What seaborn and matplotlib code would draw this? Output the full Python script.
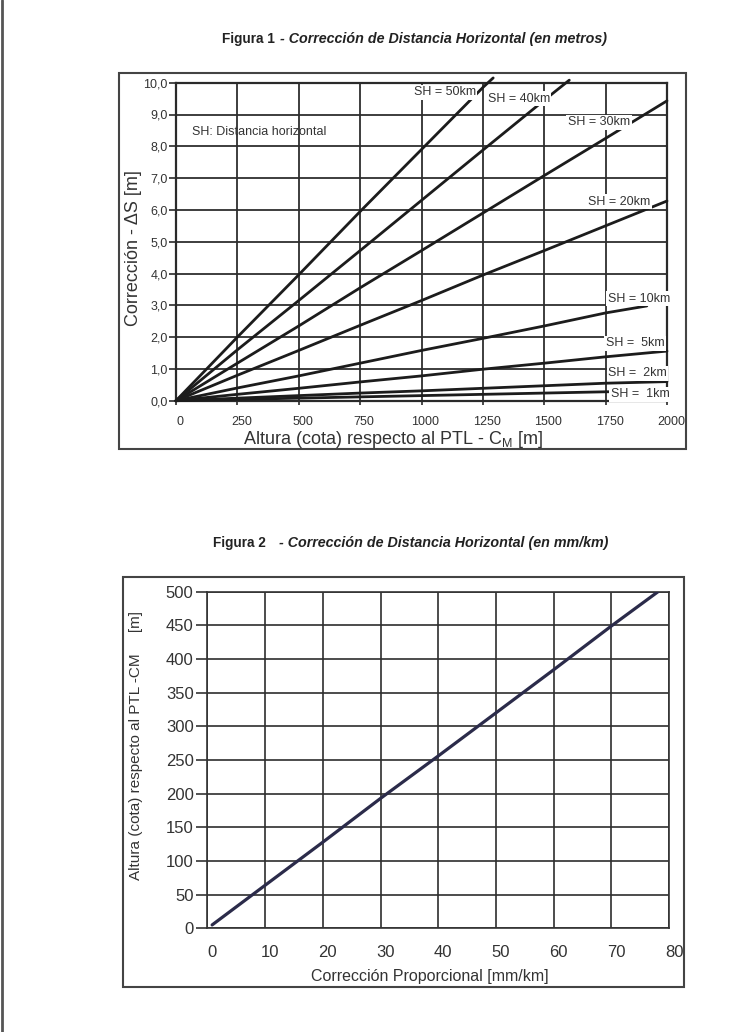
import numpy as np
import pandas as pd
import matplotlib
matplotlib.use("Agg")
import matplotlib.pyplot as plt
import seaborn as sns
from matplotlib.patches import Rectangle
from matplotlib.lines import Line2D
from matplotlib.transforms import ScaledTranslation

# ---------------- data ----------------
h_grid = [0, 250, 500, 750, 1000, 1250, 1500, 1750, 2000]
sh50_h = [0, 250, 500, 750, 1000, 1250, 1292]
sh50_ds = [0, 2.0, 3.96, 5.95, 7.9, 9.85, 10.15]
sh40_h = [0, 250, 500, 750, 1000, 1250, 1500, 1602]
sh40_ds = [0, 1.6, 3.15, 4.72, 6.3, 7.88, 9.45, 10.08]
sh30_ds = [0, 1.18, 2.35, 3.55, 4.72, 5.9, 7.08, 8.25, 9.43]
sh20_ds = [0, 0.8, 1.58, 2.37, 3.15, 3.95, 4.72, 5.5, 6.28]
sh10_h = [0, 250, 500, 750, 1000, 1250, 1500, 1750, 1918]
sh10_ds = [0, 0.4, 0.78, 1.18, 1.58, 1.96, 2.35, 2.76, 2.98]
sh5_ds = [0, 0.2, 0.39, 0.59, 0.78, 0.99, 1.18, 1.38, 1.56]
sh2_ds = [0, 0.08, 0.16, 0.24, 0.31, 0.39, 0.47, 0.55, 0.6]
sh1_ds = [0, 0.04, 0.08, 0.12, 0.16, 0.2, 0.24, 0.28, 0.31]

sh_labels = ["SH = 50km", "SH = 40km", "SH = 30km", "SH = 20km",
             "SH = 10km", "SH =  5km", "SH =  2km", "SH =  1km"]
label_x = [1094, 1396, 1723, 1806, 1885, 1870, 1880, 1890]
label_y = [9.7, 9.49, 8.75, 6.26, 3.2, 1.8, 0.86, 0.21]

x1_ticks = [0, 250, 500, 750, 1000, 1250, 1500, 1750, 2000]
y1_ticks = [0, 1, 2, 3, 4, 5, 6, 7, 8, 9, 10]
y1_ticklabels = ["0,0", "1,0", "2,0", "3,0", "4,0", "5,0", "6,0", "7,0", "8,0", "9,0", "10,0"]

corr_mmkm = [0.8, 10, 20, 30, 40, 50, 60, 70, 78.1]
altura_m = [5, 64, 128, 193, 256, 320, 384, 449, 500]
x2_ticks = [0, 10, 20, 30, 40, 50, 60, 70, 80]
y2_ticks = [0, 50, 100, 150, 200, 250, 300, 350, 400, 450, 500]

# ---------------- style ----------------
sns.set_style("white")
plt.rcParams["font.family"] = ["Liberation Sans", "DejaVu Sans"]
plt.rcParams["mathtext.fontset"] = "custom"
plt.rcParams["mathtext.rm"] = "Liberation Sans"
plt.rcParams["mathtext.it"] = "Liberation Sans"

W, H = 744, 1032
fig = plt.figure(figsize=(W / 100, H / 100), dpi=100)

def frac_axes(x0, x1, ytop, ybot):
    return [x0 / W, 1 - ybot / H, (x1 - x0) / W, (ybot - ytop) / H]

grid_c = "#2e2e2e"
txt_c = "#333333"

# page border line at left
fig.add_artist(Line2D([0.0025, 0.0025], [0, 1], transform=fig.transFigure, color="#555555", lw=2))

# outer frames
fig.add_artist(Rectangle((119 / W, 1 - 449 / H), 567 / W, 376 / H, transform=fig.transFigure,
                         fill=False, ec="#444444", lw=1.5))
fig.add_artist(Rectangle((123 / W, 1 - 987 / H), 561 / W, 410 / H, transform=fig.transFigure,
                         fill=False, ec="#444444", lw=1.5))

# titles
tkw = dict(weight="bold", va="center", ha="left", color="#222222")
fig.text(221.7 / W, 1 - 38.5 / H, "Figura 1", fontsize=9.8, **tkw)
fig.text(280 / W, 1 - 38.5 / H, "- Corrección de Distancia Horizontal (en metros)",
         style="italic", fontsize=10.3, **tkw)
fig.text(213 / W, 1 - 543 / H, "Figura 2", fontsize=9.8, **tkw)
fig.text(279 / W, 1 - 543 / H, "- Corrección de Distancia Horizontal (en mm/km)",
         style="italic", fontsize=10.3, **tkw)

# ---------------- Figure 1 ----------------
ax1 = fig.add_axes(frac_axes(176, 667, 82.7, 400.7))
rows = []
series = [
    ("50", sh50_h, sh50_ds), ("40", sh40_h, sh40_ds), ("30", h_grid, sh30_ds),
    ("20", h_grid, sh20_ds), ("10", sh10_h, sh10_ds), ("5", h_grid, sh5_ds),
    ("2", h_grid, sh2_ds), ("1", h_grid, sh1_ds),
]
for name, hs, ds in series:
    for a, b in zip(hs, ds):
        rows.append({"sh": name, "h": a, "ds": b})
df1 = pd.DataFrame(rows)
sns.lineplot(data=df1, x="h", y="ds", hue="sh", palette=["#1c1c1c"] * 8, legend=False,
             estimator=None, sort=False, lw=2.0, ax=ax1, clip_on=False, zorder=3)

ax1.set_xlim(0, 2000)
ax1.set_ylim(0, 10)
ax1.set_xticks(x1_ticks)
ax1.set_xticklabels([str(t) for t in x1_ticks])
ax1.set_yticks(y1_ticks)
ax1.set_yticklabels(y1_ticklabels)
ax1.grid(True, color=grid_c, lw=1.3)
ax1.set_axisbelow(True)
for s in ax1.spines.values():
    s.set_color("#2a2a2a")
    s.set_linewidth(1.6)
ax1.tick_params(axis="y", direction="out", length=5, width=1.2, pad=1, labelsize=9,
                colors="#2a2a2a", labelcolor=txt_c, left=True)
ax1.tick_params(axis="x", direction="out", length=3, width=1.2, pad=8, labelsize=9,
                colors="#2a2a2a", labelcolor=txt_c, bottom=True)
for lab in ax1.get_xticklabels():
    lab.set_transform(lab.get_transform() + ScaledTranslation(0.04, 0, fig.dpi_scale_trans))

ax1.set_xlabel(r"Altura (cota) respecto al PTL - C$_\mathregular{M}$ [m]", fontsize=13, color=txt_c)
ax1.xaxis.set_label_coords(0.441, -0.088)
ax1.set_ylabel("Corrección - ΔS [m]", fontsize=13, color=txt_c)
ax1.yaxis.set_label_coords(-0.069, 0.48)

for t, x, y in zip(sh_labels, label_x, label_y):
    ax1.text(x, y, t, fontsize=9, ha="center", va="center", color=txt_c, zorder=6,
             bbox=dict(boxstyle="square,pad=0.12", fc="white", ec="none"))
ax1.text(66, 8.46, "SH: Distancia horizontal", fontsize=9, ha="left", va="center",
         color=txt_c, zorder=6)

# ---------------- Figure 2 ----------------
ax2 = fig.add_axes(frac_axes(207.5, 669, 591.7, 928.3))
df2 = pd.DataFrame({"corr": corr_mmkm, "alt": altura_m})
sns.lineplot(data=df2, x="corr", y="alt", color="#2b2b4a", lw=2.3, ax=ax2,
             estimator=None, sort=False, zorder=3)
ax2.set_xlim(0, 80)
ax2.set_ylim(0, 500)
ax2.set_xticks(x2_ticks)
ax2.set_xticklabels([str(t) for t in x2_ticks])
ax2.set_yticks(y2_ticks)
ax2.set_yticklabels([str(t) for t in y2_ticks])
ax2.grid(True, color=grid_c, lw=1.2)
ax2.set_axisbelow(True)
for s in ax2.spines.values():
    s.set_color("#333333")
    s.set_linewidth(1.2)
ax2.tick_params(axis="y", direction="out", length=8, width=1.2, pad=2, labelsize=12,
                colors="#333333", labelcolor=txt_c, left=True)
ax2.tick_params(axis="x", length=0, pad=12, labelsize=12, labelcolor=txt_c)
for lab in ax2.get_xticklabels():
    lab.set_transform(lab.get_transform() + ScaledTranslation(0.05, 0, fig.dpi_scale_trans))

ax2.set_xlabel("Corrección Proporcional [mm/km]", fontsize=11.5, color=txt_c)
ax2.xaxis.set_label_coords(0.482, -0.121)
ax2.set_ylabel("Altura (cota) respecto al PTL -CM     [m]", fontsize=11, color=txt_c)
ax2.yaxis.set_label_coords(-0.14, 0.542)

fig.savefig("out.png", dpi=100, facecolor="white")
